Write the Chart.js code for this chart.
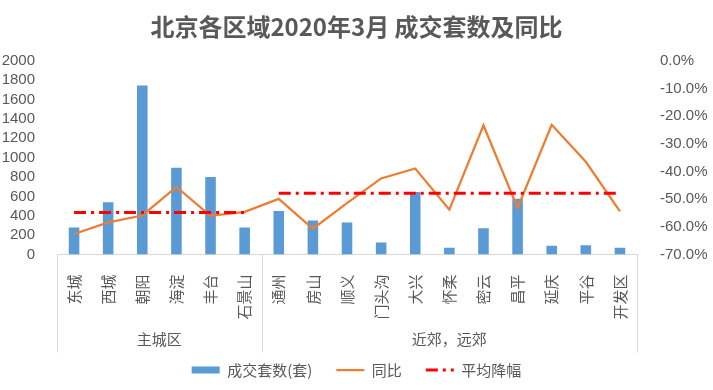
<!DOCTYPE html>
<html>
<head>
<meta charset="utf-8">
<script src="https://cdn.jsdelivr.net/npm/chart.js@4.4.1/dist/chart.umd.min.js"></script>
<style>
  html, body { margin: 0; padding: 0; background: #ffffff; }
  #wrap { width: 713px; height: 390px; }
</style>
</head>
<body>
<div id="wrap"><canvas id="c" width="713" height="390"></canvas></div>
<script>
// ---- data ----
const categories = ['东城', '西城', '朝阳', '海淀', '丰台', '石景山', '通州', '房山', '顺义', '门头沟', '大兴', '怀柔', '密云', '昌平', '延庆', '平谷', '开发区'];
const groups = ['主城区', '近郊，远郊'];
const groupSizes = [6, 11];
const volumes = [280, 540, 1745, 895, 800, 280, 450, 350, 330, 125, 645, 70, 270, 575, 90, 95, 70];
const yoyPct = [-62.6, -58.4, -55.9, -45.6, -56.0, -54.6, -49.9, -60.7, -51.4, -42.5, -38.9, -53.8, -23.3, -53.2, -23.1, -36.5, -54.4];
const groupAvgPct = [-54.8, -47.9];
const seriesNames = ['成交套数(套)', '同比', '平均降幅'];
const titleText = '北京各区域2020年3月 成交套数及同比';

// ---- derived ----
const groupOf = [];
groupSizes.forEach((n, g) => { for (let i = 0; i < n; i++) groupOf.push(g); });
const avgSeries = groupOf.map(g => groupAvgPct[g]);

const CJK = '"Noto Sans CJK SC", "Noto Sans", sans-serif';
const NUM = '"Liberation Sans", Arial, sans-serif';
const GRAY = '#595959';
const BLUE = '#5B9BD5', ORANGE = '#ED7D31', RED = '#FF0000';

const groupAxisPlugin = {
  id: 'groupAxis',
  afterDraw(chart) {
    const xs = chart.scales.x, ctx = chart.ctx;
    const n = categories.length;
    const edge = i => i <= 0 ? xs.left : (i >= n ? xs.right : (xs.getPixelForTick(i - 1) + xs.getPixelForTick(i)) / 2);
    ctx.save();
    ctx.strokeStyle = '#d9d9d9';
    ctx.lineWidth = 1;
    let start = 0;
    const bounds = [0];
    groupSizes.forEach(s => { start += s; bounds.push(start); });
    bounds.forEach(b => {
      const x = Math.round(edge(b)) + 0.5;
      ctx.beginPath();
      ctx.moveTo(x, xs.top);
      ctx.lineTo(x, xs.top + 98);
      ctx.stroke();
    });
    ctx.fillStyle = GRAY;
    ctx.font = '15px ' + CJK;
    ctx.textAlign = 'center';
    ctx.textBaseline = 'middle';
    groups.forEach((g, k) => {
      const x = (edge(bounds[k]) + edge(bounds[k + 1])) / 2;
      ctx.fillText(g, x, xs.top + 85);
    });
    ctx.restore();
  }
};

new Chart(document.getElementById('c'), {
  data: {
    labels: categories,
    datasets: [
      {
        type: 'bar', label: seriesNames[0], data: volumes, yAxisID: 'y',
        backgroundColor: BLUE, borderWidth: 0, barPercentage: 0.31, categoryPercentage: 1, order: 3
      },
      {
        type: 'line', label: seriesNames[1], data: yoyPct, yAxisID: 'y1',
        borderColor: ORANGE, backgroundColor: ORANGE, borderWidth: 2.25, pointRadius: 0, tension: 0, order: 2
      },
      {
        type: 'line', label: seriesNames[2], data: avgSeries, yAxisID: 'y1',
        borderColor: RED, backgroundColor: RED, borderWidth: 3, borderDash: [12, 5, 3, 5], pointRadius: 0, tension: 0, order: 1,
        segment: { borderColor: c => groupOf[c.p0DataIndex] !== groupOf[c.p1DataIndex] ? 'rgba(0,0,0,0)' : RED }
      }
    ]
  },
  options: {
    responsive: false,
    animation: false,
    devicePixelRatio: 1,
    layout: { padding: { left: 0, right: 0, top: 0, bottom: 2.5 } },
    plugins: {
      title: {
        display: true, text: titleText, color: GRAY,
        font: { family: CJK, size: 24, weight: 'bold' },
        padding: { top: 12, bottom: 20 }
      },
      legend: {
        position: 'bottom',
        labels: {
          usePointStyle: true, pointStyleWidth: 28, boxHeight: 7, padding: 24,
          color: GRAY, font: { family: CJK, size: 15 },
          generateLabels: chart => chart.data.datasets.map((ds, i) => ({
            text: ds.label,
            fillStyle: ds.backgroundColor,
            strokeStyle: ds.type === 'bar' ? ds.backgroundColor : ds.borderColor,
            lineWidth: ds.type === 'bar' ? 0 : ds.borderWidth,
            lineDash: ds.borderDash || [],
            pointStyle: ds.type === 'bar' ? 'rect' : 'line',
            fontColor: GRAY,
            hidden: false,
            datasetIndex: i
          }))
        }
      },
      tooltip: { enabled: false }
    },
    scales: {
      x: {
        type: 'category', offset: true,
        grid: { display: false },
        border: { display: true, color: '#d9d9d9' },
        ticks: { minRotation: 90, maxRotation: 90, autoSkip: false, padding: 12, color: GRAY, font: { family: CJK, size: 15 } },
        afterFit: s => { s.height = 84; }
      },
      y: {
        position: 'left', min: 0, max: 2000,
        grid: { display: false }, border: { display: false },
        ticks: { stepSize: 200, autoSkip: false, padding: 14, color: GRAY, font: { family: NUM, size: 15 }, callback: v => String(v) },
        afterFit: s => { s.width = 57; }
      },
      y1: {
        position: 'right', min: -70, max: 0,
        grid: { display: false }, border: { display: false },
        ticks: { stepSize: 10, autoSkip: false, padding: 15, color: GRAY, font: { family: NUM, size: 15 }, callback: v => v.toFixed(1) + '%' },
        afterFit: s => { s.width = 76; }
      }
    }
  },
  plugins: [groupAxisPlugin]
});
</script>
</body>
</html>
